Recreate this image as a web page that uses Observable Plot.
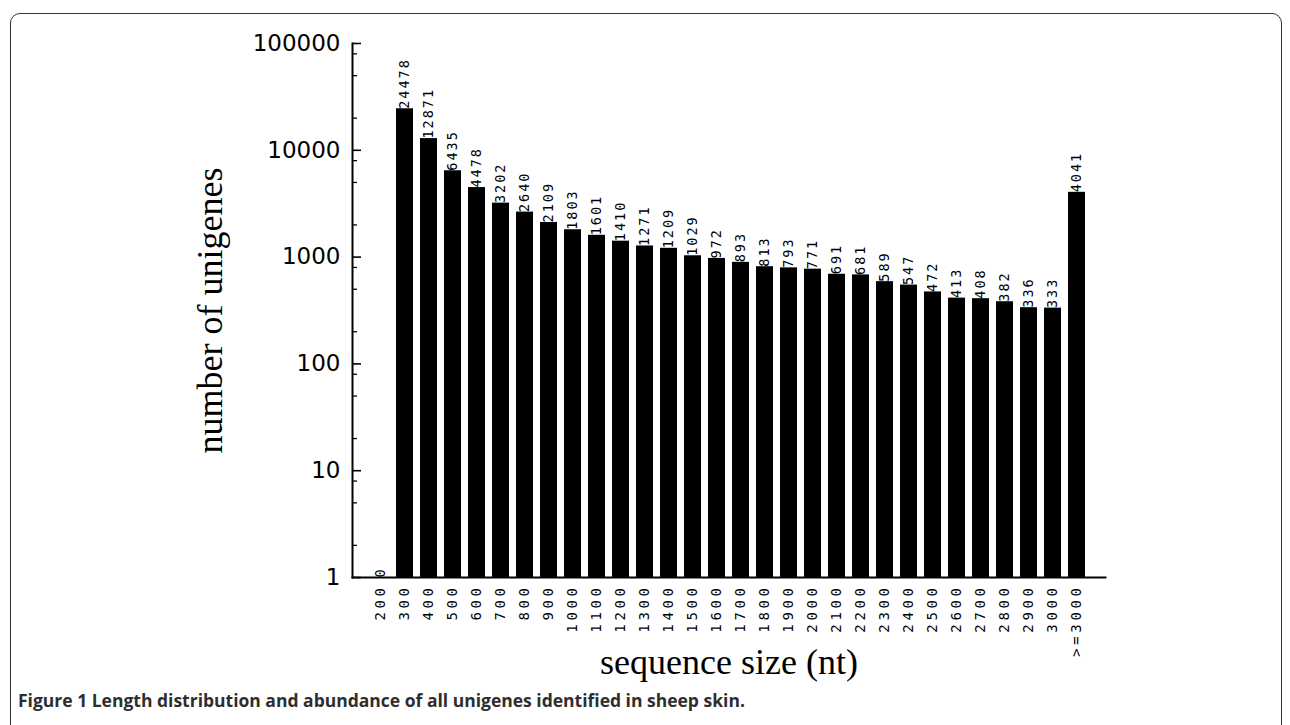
<!DOCTYPE html>
<html>
<head>
<meta charset="utf-8">
<script src="https://cdn.jsdelivr.net/npm/d3@7"></script>
<script src="https://cdn.jsdelivr.net/npm/@observablehq/plot@0.6"></script>
<style>
  html, body { margin: 0; padding: 0; background: #fff; overflow: hidden; }
  #wrap { position: relative; width: 1290px; height: 725px; }
  #border { position: absolute; left: 10px; top: 13px; width: 1272px; height: 780px;
            border: 1.6px solid #333; border-radius: 10px; box-sizing: border-box; }
  #chart { position: absolute; left: 0; top: 0; }
  #caption { position: absolute; left: 18px; top: 688px; font-family: "Open Sans", sans-serif;
             font-size: 17.5px; font-weight: 700; color: #2e2e2e; white-space: nowrap; }
  g[aria-label="x-axis tick label"] text { letter-spacing: 3.6px; }
  g[aria-label="text"] text { letter-spacing: 2px; }
  g[aria-label="x-axis label"] text, g[aria-label="y-axis label"] text {
    font-family: "Liberation Serif", "Times New Roman", serif; font-size: 36px; fill: #000;
  }
</style>
</head>
<body>
<div id="wrap">
  <div id="border"></div>
  <div id="chart"></div>
  <div id="caption">Figure 1 Length distribution and abundance of all unigenes identified in sheep skin.</div>
</div>
<script>
const sizes = ["200","300","400","500","600","700","800","900","1000","1100","1200","1300","1400","1500",
  "1600","1700","1800","1900","2000","2100","2200","2300","2400","2500","2600","2700","2800","2900","3000",">=3000"];
const counts = [0,24478,12871,6435,4478,3202,2640,2109,1803,1601,1410,1271,1209,1029,
  972,893,813,793,771,691,681,589,547,472,413,408,382,336,333,4041];
const majorTicks = [1,10,100,1000,10000,100000];
const minorTicks = [2,5,8,20,50,80,200,500,800,2000,5000,8000,20000,50000,80000];

const data = sizes.map((s, i) => ({size: s, value: counts[i]}));

const W = 1290, H = 690;
const mL = 352, mR = 185, mT = 43, mB = 113;
const innerW = W - mL - mR;

const plot = Plot.plot({
  width: W,
  height: H,
  marginLeft: mL,
  marginRight: mR,
  marginTop: mT,
  marginBottom: mB,
  style: {background: "transparent", color: "#000"},
  x: {domain: sizes, paddingInner: 0.28, paddingOuter: 0.5},
  y: {type: "log", domain: [1, 100000]},
  marks: [
    Plot.barY(data.filter(d => d.value > 0), {x: "size", y1: 1, y2: "value", fill: "#000"}),
    Plot.text(data, {x: "size", y: d => Math.max(d.value, 1), text: d => String(d.value),
      rotate: -90, textAnchor: "start",
      fontFamily: "DejaVu Sans Mono", fontSize: 13.5, fill: "#000"}),
    Plot.tickY(majorTicks, {y: d => d, insetRight: innerW - 9, stroke: "#000", strokeWidth: 1.6}),
    Plot.tickY(minorTicks, {y: d => d, insetRight: innerW - 5, stroke: "#000", strokeWidth: 1.3}),
    Plot.axisX({tickSize: 0, tickPadding: 7, tickRotate: -90, fontFamily: "DejaVu Sans Mono",
      fontSize: 14, label: "sequence size (nt)", labelAnchor: "center", labelOffset: 96}),
    Plot.axisY({ticks: majorTicks, tickSize: 0, tickPadding: 12, tickFormat: d => String(d),
      fontFamily: "DejaVu Sans", fontSize: 23, label: "number of unigenes", labelAnchor: "center",
      labelArrow: "none", labelOffset: 156}),
    Plot.frame({anchor: "left", stroke: "#000", strokeWidth: 2}),
    Plot.frame({anchor: "bottom", stroke: "#000", strokeWidth: 2})
  ]
});
document.getElementById("chart").appendChild(plot);
</script>
</body>
</html>
